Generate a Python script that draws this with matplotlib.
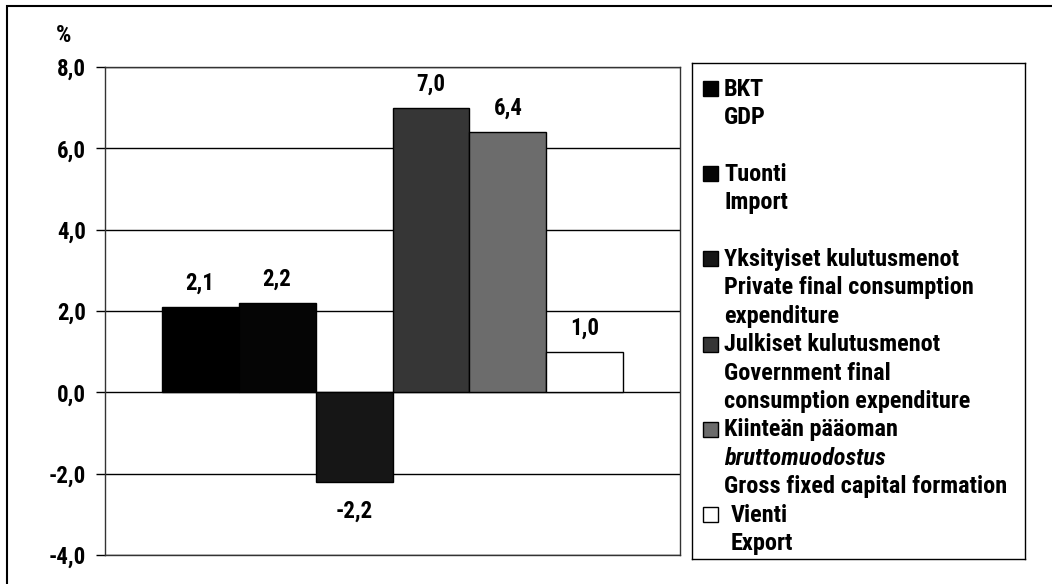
import matplotlib
matplotlib.use("Agg")
import matplotlib.pyplot as plt
from matplotlib.patches import Rectangle
from matplotlib import font_manager

# data
series_fi = ["BKT", "Tuonti", "Yksityiset kulutusmenot", "Julkiset kulutusmenot",
             "Kiinteän pääoman bruttomuodostus", "Vienti"]
values = [2.1, 2.2, -2.2, 7.0, 6.4, 1.0]
colors = ["#000000", "#050505", "#161616", "#363636", "#6c6c6c", "#ffffff"]
yticks = [-4.0, -2.0, 0.0, 2.0, 4.0, 6.0, 8.0]

# legend lines: (text, style, swatch index or None)
legend_lines = [
    ("BKT", "normal", 0), ("GDP", "normal", None), ("", "normal", None),
    ("Tuonti", "normal", 1), ("Import", "normal", None), ("", "normal", None),
    ("Yksityiset kulutusmenot", "normal", 2), ("Private final consumption", "normal", None),
    ("expenditure", "normal", None),
    ("Julkiset kulutusmenot", "normal", 3), ("Government final", "normal", None),
    ("consumption expenditure", "normal", None),
    ("Kiinteän pääoman", "normal", 4), ("bruttomuodostus", "italic", None),
    ("Gross fixed capital formation", "normal", None),
    ("Vienti", "normal", 5), ("Export", "normal", None),
]

# pick a narrow font if one is installed
names = sorted({f.name for f in font_manager.fontManager.ttflist})
fam = None
for cand in ["Liberation Sans Narrow", "Roboto Condensed", "Noto Sans Condensed",
             "Open Sans Condensed", "DejaVu Sans Condensed"]:
    if cand in names:
        fam = cand
        break
if fam is None:
    narrow = [n for n in names if "Condensed" in n or "Narrow" in n]
    fam = narrow[0] if narrow else "Roboto"
condensed = fam != "Roboto"
fs = 16.5 if condensed else 13.5
fs_leg = 17.5 if condensed else 13.5

plt.rcParams["font.family"] = [fam, "DejaVu Sans"]
plt.rcParams["font.weight"] = "bold"

fig = plt.figure(figsize=(10.52, 5.84), dpi=100)
W, H = 1052, 584

ax = fig.add_axes([105 / W, 1 - 555 / H, 575 / W, 488 / H])
x = list(range(len(values)))
ax.bar(x, values, width=1.0, color=colors, edgecolor="black", linewidth=1, zorder=3)
ax.set_xlim(-1.235, 6.235)
ax.set_ylim(-4, 8)
ax.set_yticks(yticks)
ax.set_yticklabels([f"{v:.1f}".replace(".", ",") for v in yticks], fontsize=fs, fontweight="bold")
ax.set_xticks([])
ax.tick_params(axis="y", length=6.5, width=1, pad=7, direction="out")
ax.grid(axis="y", color="black", linewidth=1, zorder=1)
for s in ax.spines.values():
    s.set_color("#333333")
    s.set_linewidth(1)

for xi, v in zip(x, values):
    lbl = f"{v:.1f}".replace(".", ",")
    off = 17 if v >= 0 else -21
    ax.annotate(lbl, (xi, v), textcoords="offset points", xytext=(0, off),
                ha="center", va="center", fontsize=fs, fontweight="bold")

fig.text(64 / W, 1 - 36 / H, "%", ha="center", va="center", fontsize=fs + 1, fontweight="bold")

# legend box
lx0, lx1, ly0, ly1 = 692, 1025, 63, 559
lax = fig.add_axes([lx0 / W, 1 - ly1 / H, (lx1 - lx0) / W, (ly1 - ly0) / H])
lax.set_xlim(lx0, lx1)
lax.set_ylim(ly1, ly0)
lax.set_xticks([])
lax.set_yticks([])
for s in lax.spines.values():
    s.set_color("black")
    s.set_linewidth(1)

pitch = 28.4
for i, (txt, style, sw) in enumerate(legend_lines):
    y = 89 + i * pitch
    tx = 724
    if sw is not None:
        lax.add_patch(Rectangle((703, y - 8), 15, 15, facecolor=colors[sw],
                                edgecolor="black", linewidth=1))
        if sw == 5:
            tx = 731
    elif i == 16:
        tx = 731
    if txt:
        lax.text(tx, y, txt, ha="left", va="center", fontsize=fs_leg,
                 fontweight="bold", fontstyle=style)

# outer frame (only top and left edges fall inside the picture)
fig.add_artist(Rectangle((7 / W, -0.05), 1.2, 1.05 - 6 / H, transform=fig.transFigure,
                         fill=False, edgecolor="black", linewidth=1.5))

fig.savefig("out.png", dpi=100)
